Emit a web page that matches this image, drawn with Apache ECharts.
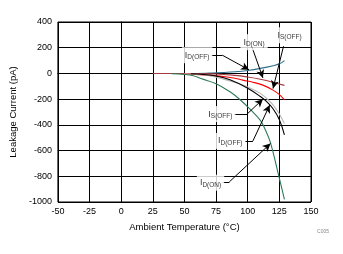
<!DOCTYPE html>
<html><head><meta charset="utf-8">
<script src="https://cdn.jsdelivr.net/npm/echarts@6/dist/echarts.min.js"></script>
<style>html,body{margin:0;padding:0;background:#fff}#c{width:343px;height:254px}</style>
</head><body><div id="c"></div><script>
const xTicks=[-50,-25,0,25,50,75,100,125,150];
const yTicks=[-1000,-800,-600,-400,-200,0,200,400];

const blueT=[60,70,80,90,100,110,120,125,129];
const blueV=[0,3,7,13,23,39,60,75,100];
const brownT=[25,50,75,90,100,110,120,129];
const brownV=[0,-1,-4,-15,-28,-45,-68,-93];
const redT=[50,62,78,90,96,104,112,120,125,129];
const redV=[-3,-10,-21,-38,-52,-68,-91,-130,-165,-205];
const grayT=[50,60,70,80,90,100,110,115,120,125,129];
const grayV=[-2,-6,-18,-42,-70,-105,-155,-195,-245,-315,-390];
const blackT=[55,65,75,86,100,110,115,120,125,129];
const blackV=[-2,-8,-20,-50,-115,-180,-220,-275,-360,-478];
const greenT=[40,50,57,63,75,86,94,102,110,114,118,124,129];
const greenV=[-3,-8,-18,-40,-80,-143,-205,-280,-365,-440,-540,-775,-980];

const labelNames=['D(OFF)','D(ON)','S(OFF)','S(OFF)','D(OFF)','D(ON)'];
const labelT=[60,105,133,78.4,86.2,70.6];
const labelV=[142,243,297,-316,-525,-850];
const arrowPaths=[
  [[71.3,142],[79.9,142],[101,28]],
  [[103.4,204],[112,-35]],
  [[128.3,212],[120,-118]],
  [[89.3,-316],[99.5,-316],[112,-200]],
  [[97.9,-525],[104.1,-525],[117.4,-246]],
  [[80,-843],[85.5,-843],[118,-545]]
];

const zip=(t,v)=>t.map((x,i)=>[x,v[i]]);
const curve=(name,t,v,color)=>({type:'line',name,data:zip(t,v),smooth:0.4,showSymbol:false,
  lineStyle:{color,width:1.1},itemStyle:{color},z:3,silent:true});

const mlData=[];
arrowPaths.forEach(p=>{
  for(let i=0;i<p.length-1;i++){
    const last=i===p.length-2;
    mlData.push([{coord:p[i],symbol:'none'},{coord:p[i+1],symbol:last?'arrow':'none'}]);
  }
});

const font='Arial, "Liberation Sans", sans-serif';
const plain=v=>String(v);
const chart=echarts.init(document.getElementById('c'),null,{renderer:'canvas'});
chart.setOption({
  animation:false,
  backgroundColor:'#fff',
  grid:{left:56,right:32,top:22,bottom:52,show:true,borderColor:'#000',borderWidth:1},
  xAxis:{type:'value',min:xTicks[0],max:xTicks[xTicks.length-1],interval:xTicks[1]-xTicks[0],
    name:'Ambient Temperature (°C)',nameLocation:'middle',nameGap:20,
    nameTextStyle:{fontFamily:font,fontSize:9.5,color:'#000'},
    axisLine:{lineStyle:{color:'#000',width:1}},
    axisTick:{show:false},
    axisLabel:{fontFamily:font,fontSize:9,color:'#000',margin:5,formatter:plain},
    splitLine:{show:true,lineStyle:{color:'#000',width:1}}},
  yAxis:{type:'value',min:yTicks[0],max:yTicks[yTicks.length-1],interval:yTicks[1]-yTicks[0],
    name:'Leakage Current (pA)',nameLocation:'middle',nameGap:34,
    nameTextStyle:{fontFamily:font,fontSize:9.5,color:'#000'},
    axisLine:{show:true,lineStyle:{color:'#000',width:1}},
    axisTick:{show:true,length:4,lineStyle:{color:'#000'}},
    axisLabel:{fontFamily:font,fontSize:9,color:'#000',margin:6,formatter:plain},
    splitLine:{show:true,lineStyle:{color:'#000',width:1}}},
  series:[
    curve('blue',blueT,blueV,'#2f6f8c'),
    curve('brown',brownT,brownV,'#a3393c'),
    curve('red',redT,redV,'#ff0000'),
    curve('gray',grayT,grayV,'#b8b8b8'),
    curve('black',blackT,blackV,'#000000'),
    curve('green',greenT,greenV,'#2e7a58'),
    {type:'scatter',data:labelNames.map((n,i)=>({name:n,value:[labelT[i],labelV[i]]})),
      symbolSize:0,z:5,silent:true,
      label:{show:true,position:'inside',backgroundColor:'#fff',padding:[2,3],
        formatter:p=>'{i|I}{s|'+p.name+'}',
        rich:{i:{fontFamily:font,fontSize:9,color:'#000',lineHeight:12},
              s:{fontFamily:font,fontSize:6.5,color:'#000',lineHeight:12,padding:[4,0,0,0]}}}},
    {type:'line',data:[],z:6,silent:true,
      markLine:{silent:true,symbolSize:[6,8],animation:false,
        lineStyle:{color:'#000',width:1,type:'solid'},label:{show:false},
        emphasis:{disabled:true},data:mlData}}
  ],
  graphic:[{type:'text',right:14,top:229,style:{text:'C005',font:'5px '+font,fill:'#888'}}]
});
</script></body></html>
